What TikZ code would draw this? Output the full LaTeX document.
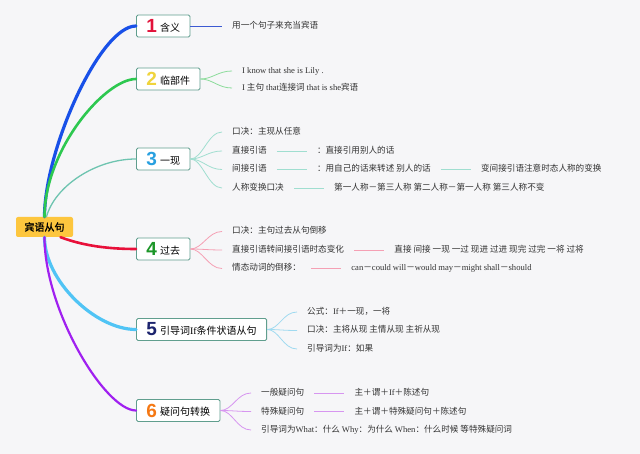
\documentclass[tikz,border=0pt]{standalone}
\usepackage{fontspec}
\setmainfont{Noto Sans CJK SC}
\newfontfamily\enfont{Liberation Serif}
\newfontfamily\numfont{Liberation Sans}
\newfontfamily\rootfont{Noto Sans CJK SC}[FakeBold=1.5]
\usetikzlibrary{positioning}

\definecolor{bg}{RGB}{246,246,248}
\definecolor{rootfill}{RGB}{253,198,62}
\definecolor{boxline}{RGB}{96,158,142}
\definecolor{leaftext}{RGB}{51,51,51}
\definecolor{num1}{RGB}{226,18,58}
\definecolor{num2}{RGB}{240,212,60}
\definecolor{num3}{RGB}{40,160,224}
\definecolor{num4}{RGB}{28,150,40}
\definecolor{num5}{RGB}{28,36,110}
\definecolor{num6}{RGB}{245,120,20}
\definecolor{m1}{RGB}{24,80,232}
\definecolor{m2}{RGB}{45,200,80}
\definecolor{m3}{RGB}{110,196,176}
\definecolor{m4}{RGB}{232,16,58}
\definecolor{m5}{RGB}{80,196,245}
\definecolor{m6}{RGB}{160,32,240}
\definecolor{t1}{RGB}{60,90,210}
\definecolor{t2}{RGB}{140,220,155}
\definecolor{t3}{RGB}{160,222,208}
\definecolor{t4}{RGB}{245,160,180}
\definecolor{t5}{RGB}{160,218,240}
\definecolor{t6}{RGB}{215,150,240}

\newcommand\eng[1]{{\enfont #1}}
\newcommand\bnum[3]{{\numfont\bfseries\fontsize{19}{19}\selectfont\color{#1}#2}\hspace{3pt}\raisebox{1.5pt}{#3}}

\tikzset{
  root/.style={fill=rootfill, rounded corners=2pt, minimum width=57pt, minimum height=20pt,
    inner sep=0pt, font=\rootfont\fontsize{10}{12}\selectfont},
  branch/.style={draw=boxline, line width=0.9pt, fill=white, rounded corners=1.5pt,
    minimum height=22pt, inner xsep=10pt, inner ysep=0pt, anchor=west,
    font=\fontsize{10}{12}\selectfont},
  leaf/.style={anchor=west, inner xsep=10pt, inner ysep=0pt, text height=7pt,
    text depth=2pt, text=leaftext, font=\fontsize{8.6}{10}\selectfont},
  trunk/.style={line cap=round},
  twig/.style={line width=0.8pt},
}

\begin{document}
\begin{tikzpicture}[x=1pt,y=-1pt]
  \fill[bg] (0,0) rectangle (640,454);
  \useasboundingbox (0,0) rectangle (640,454);

  \node[root] (root) at (44.5,227) {宾语从句};

  \node[branch] (b1) at (136,26)    {\bnum{num1}{1}{含义}};
  \node[branch] (b2) at (136,79)    {\bnum{num2}{2}{临部件}};
  \node[branch] (b3) at (136,159)   {\bnum{num3}{3}{一现}};
  \node[branch] (b4) at (136,249)   {\bnum{num4}{4}{过去}};
  \node[branch] (b5) at (136,329.5) {\bnum{num5}{5}{引导词\eng{If}条件状语从句}};
  \node[branch] (b6) at (136,410.5) {\bnum{num6}{6}{疑问句转换}};

  \draw[trunk, m1, line width=3.2pt] (root.north) .. controls +(0,-67) and +(-36,0) .. (b1.west);
  \draw[trunk, m2, line width=2.6pt] (root.north) .. controls +(0,-67) and +(-31,0) .. (b2.west);
  \draw[trunk, m3, line width=1.3pt] ([xshift=2pt]root.north) .. controls +(8,-30) and +(-41,0) .. (b3.west);
  \draw[trunk, m4, line width=2.6pt] ([xshift=16pt]root.south) .. controls +(24,9) and +(-26,0) .. (b4.west);
  \draw[trunk, m5, line width=3.2pt] (root.south) .. controls +(0,43) and +(-41,0) .. (b5.west);
  \draw[trunk, m6, line width=2.2pt] (root.south) .. controls +(0,73) and +(-31,0) .. (b6.west);

  % 1
  \node[leaf] (c11) at (222,26) {用一个句子来充当宾语};
  \draw[twig, t1] (b1.east) -- (c11.west);

  % 2
  \node[leaf] (c21) at (232,71) {\eng{I know that she is Lily .}};
  \node[leaf] (c22) at (232,88) {\eng{I} 主句 \eng{that}连接词 \eng{that is she}宾语};

  % 3
  \node[leaf] (c31) at (222,132) {口决：主现从任意};
  \node[leaf] (c32) at (222,151) {直接引语};
  \node[leaf] (c33) at (222,169.5) {间接引语};
  \node[leaf] (c34) at (222,188) {人称变换口决};
  \node[leaf, right=30pt of c32] (d32) {：直接引用别人的话};
  \node[leaf, right=30pt of c33] (d33) {：用自己的话来转述 别人的话};
  \node[leaf, right=30pt of d33] (e33) {变间接引语注意时态人称的变换};
  \node[leaf, right=30pt of c34] (d34) {第一人称－第三人称 第二人称－第一人称 第三人称不变};

  % 4
  \node[leaf] (c41) at (222,231.5) {口决：主句过去从句倒移};
  \node[leaf] (c42) at (222,250) {直接引语转间接引语时态变化};
  \node[leaf] (c43) at (222,268.5) {情态动词的倒移：};
  \node[leaf, right=30pt of c42] (d42) {直接 间接 一现 一过 现进 过进 现完 过完 一将 过将};
  \node[leaf, right=30pt of c43] (d43) {\eng{can}－\eng{could} \eng{will}－\eng{would} \eng{may}－\eng{might} \eng{shall}－\eng{should}};

  % 5
  \node[leaf] (c51) at (297,312) {公式：\eng{If}＋一现，一将};
  \node[leaf] (c52) at (297,330.5) {口决：主将从现 主情从现 主祈从现};
  \node[leaf] (c53) at (297,349) {引导词为\eng{If}：如果};

  % 6
  \node[leaf] (c61) at (251,393) {一般疑问句};
  \node[leaf] (c62) at (251,411.5) {特殊疑问句};
  \node[leaf] (c63) at (251,430) {引导词为\eng{What}：什么 \eng{Why}：为什么 \eng{When}：什么时候 等特殊疑问词};
  \node[leaf, right=30pt of c61] (d61) {主＋谓＋\eng{If}＋陈述句};
  \node[leaf, right=30pt of c62] (d62) {主＋谓＋特殊疑问句＋陈述句};

  \foreach \i in {1,2}
    \draw[twig, t2] (b2.east) .. controls +(12,0) and +(-14,0) .. (c2\i.west);
  \foreach \i in {1,...,4}
    \draw[twig, t3] (b3.east) .. controls +(12,0) and +(-14,0) .. (c3\i.west);
  \foreach \i in {1,2,3}
    \draw[twig, t4] (b4.east) .. controls +(12,0) and +(-14,0) .. (c4\i.west);
  \foreach \i in {1,2,3}
    \draw[twig, t5] (b5.east) .. controls +(12,0) and +(-14,0) .. (c5\i.west);
  \foreach \i in {1,2,3}
    \draw[twig, t6] (b6.east) .. controls +(12,0) and +(-14,0) .. (c6\i.west);

  \draw[twig, t3] (c32.east) -- (d32.west);
  \draw[twig, t3] (c33.east) -- (d33.west);
  \draw[twig, t3] (d33.east) -- (e33.west);
  \draw[twig, t3] (c34.east) -- (d34.west);
  \draw[twig, t4] (c42.east) -- (d42.west);
  \draw[twig, t4] (c43.east) -- (d43.west);
  \draw[twig, t6] (c61.east) -- (d61.west);
  \draw[twig, t6] (c62.east) -- (d62.west);
\end{tikzpicture}
\end{document}
